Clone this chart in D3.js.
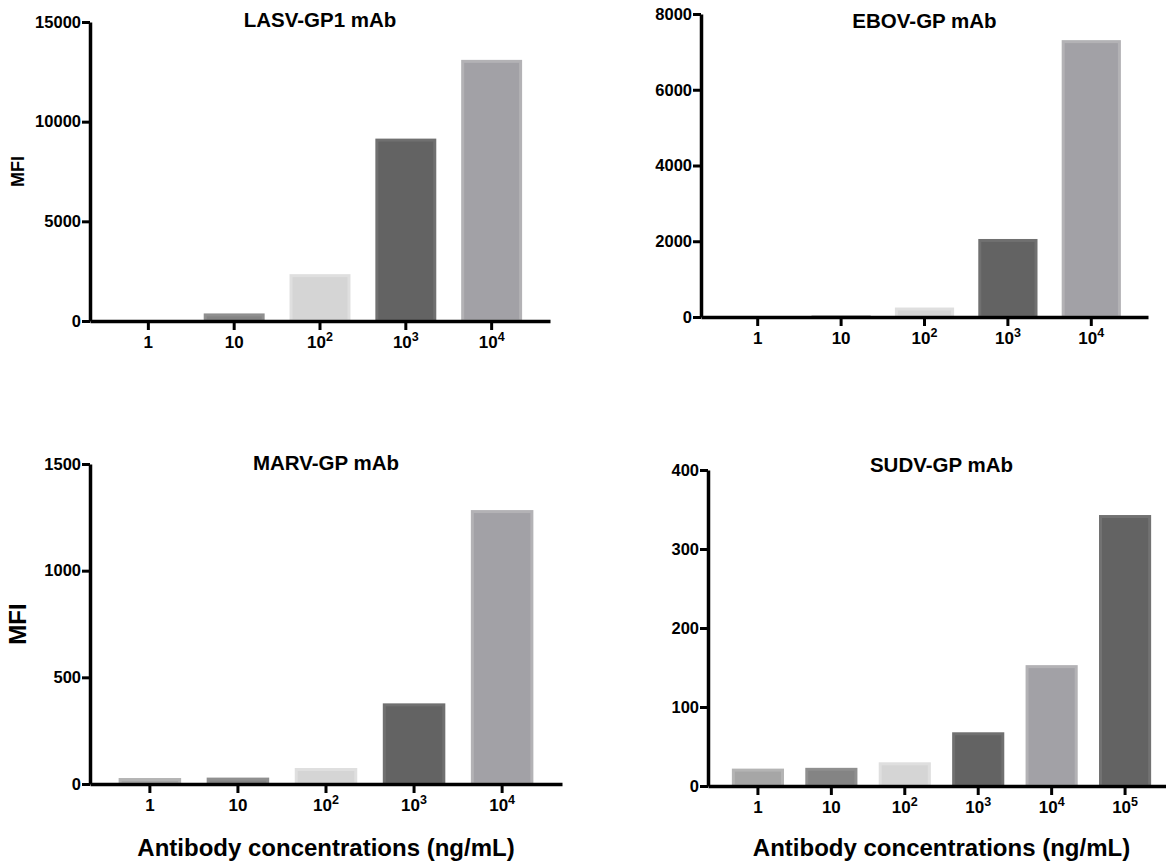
<!DOCTYPE html>
<html>
<head>
<meta charset="utf-8">
<script src="https://cdn.jsdelivr.net/npm/d3@7"></script>
<style>
  body { margin: 0; background: #fff; }
  svg { display: block; font-family: "Liberation Sans", Arial, sans-serif; font-weight: bold; }
</style>
</head>
<body>
<svg id="chart" width="1166" height="865"></svg>
<script>
// ---- data ----
let concLabels5 = ['1', '10', '10^2', '10^3', '10^4'];
let concLabels6 = ['1', '10', '10^2', '10^3', '10^4', '10^5'];

let lasvValues = [50, 380, 2350, 9150, 13100];
let ebovValues = [20, 40, 250, 2060, 7310];
let marvValues = [28, 30, 75, 378, 1284];
let sudvValues = [22, 23, 30, 68, 153, 343];

let lasvTicks = [0, 5000, 10000, 15000];
let ebovTicks = [0, 2000, 4000, 6000, 8000];
let marvTicks = [0, 500, 1000, 1500];
let sudvTicks = [0, 100, 200, 300, 400];

// bar fill / edge colour by concentration
let barFills = ['#a6a6a6', '#848484', '#d5d5d5', '#636363', '#a2a1a6', '#636363'];
let barEdges = ['#b4b4b4', '#8f8f8f', '#dfdfdf', '#707070', '#b3b2b5', '#727272'];

let svg = d3.select('#chart');

//--------------------------------------
function drawPanel(opt) {
  let g = svg.append('g');

  let x = d3.scaleBand()
      .domain(opt.labels)
      .range([opt.x0, opt.x1])
      .paddingInner(0.29)
      .paddingOuter(0.325);

  let y = d3.scaleLinear()
      .domain([0, d3.max(opt.ticks)])
      .range([opt.y0, opt.yTop]);

  // bars
  g.selectAll('rect.bar')
    .data(opt.values)
    .enter().append('rect')
      .attr('class', 'bar')
      .attr('x', function(d, i) { return x(opt.labels[i]) + 1.5; })
      .attr('y', function(d) { return y(d) + 1.5; })
      .attr('width', x.bandwidth() - 3)
      .attr('height', function(d) { return Math.max(0, opt.y0 - y(d) - 1.5); })
      .attr('fill', function(d, i) { return barFills[i]; })
      .attr('stroke', function(d, i) { return barEdges[i]; })
      .attr('stroke-width', 3);

  // y axis
  let yAxis = g.append('g')
      .attr('transform', 'translate(' + opt.x0 + ',0)')
      .call(d3.axisLeft(y).tickValues(opt.ticks).tickSize(8).tickPadding(1).tickSizeOuter(0).tickFormat(d3.format('d')));
  yAxis.select('.domain').attr('stroke', '#000').attr('stroke-width', 3.5);
  yAxis.selectAll('.tick line').attr('stroke', '#000').attr('stroke-width', 3);
  yAxis.selectAll('.tick text')
      .attr('fill', '#000')
      .style('font-size', '16.5px')
      .style('font-family', '"Liberation Sans", Arial, sans-serif')
      .style('font-weight', 'bold');

  // x axis
  let xAxis = g.append('g')
      .attr('transform', 'translate(0,' + opt.y0 + ')')
      .call(d3.axisBottom(x).tickSize(9).tickSizeOuter(0).tickFormat(''));
  xAxis.select('.domain').attr('stroke', '#000').attr('stroke-width', 3.5);
  xAxis.selectAll('.tick line').attr('stroke', '#000').attr('stroke-width', 3);

  // tick labels like 10^2 with superscript
  let lab = g.selectAll('text.xlab')
    .data(opt.labels)
    .enter().append('text')
      .attr('class', 'xlab')
      .attr('x', function(d) { return x(d) + x.bandwidth() / 2; })
      .attr('y', opt.y0 + 27)
      .attr('text-anchor', 'middle')
      .style('font-size', '17px');
  lab.each(function(d) {
    let parts = d.split('^');
    let t = d3.select(this);
    t.append('tspan').text(parts[0]);
    if (parts.length > 1) {
      t.append('tspan').attr('dy', -7).style('font-size', '12.5px').text(parts[1]);
    }
  });

  // title
  g.append('text')
      .attr('x', (opt.x0 + opt.x1) / 2)
      .attr('y', opt.titleY)
      .attr('text-anchor', 'middle')
      .style('font-size', '20.5px')
      .text(opt.title);

  if (opt.yLabel) {
    g.append('text')
        .attr('transform', 'translate(' + opt.yLabelX + ',' + ((opt.y0 + opt.yTop) / 2) + ') rotate(-90)')
        .attr('text-anchor', 'middle')
        .style('font-size', opt.yLabelSize + 'px')
        .text(opt.yLabel);
  }
  if (opt.xLabel) {
    g.append('text')
        .attr('x', (opt.x0 + opt.x1) / 2)
        .attr('y', 856)
        .attr('text-anchor', 'middle')
        .style('font-size', '24px')
        .text(opt.xLabel);
  }
}

drawPanel({ title: 'LASV-GP1 mAb', labels: concLabels5, values: lasvValues, ticks: lasvTicks,
  x0: 90, x1: 550, y0: 321, yTop: 22, titleY: 27, yLabel: 'MFI', yLabelX: 24, yLabelSize: 18 });
drawPanel({ title: 'EBOV-GP mAb', labels: concLabels5, values: ebovValues, ticks: ebovTicks,
  x0: 701, x1: 1148, y0: 317, yTop: 14, titleY: 28 });
drawPanel({ title: 'MARV-GP mAb', labels: concLabels5, values: marvValues, ticks: marvTicks,
  x0: 90, x1: 562, y0: 784, yTop: 464, titleY: 470, yLabel: 'MFI', yLabelX: 26, yLabelSize: 24,
  xLabel: 'Antibody concentrations (ng/mL)' });
drawPanel({ title: 'SUDV-GP mAb', labels: concLabels6, values: sudvValues, ticks: sudvTicks,
  x0: 708, x1: 1175, y0: 786, yTop: 470, titleY: 472,
  xLabel: 'Antibody concentrations (ng/mL)' });
</script>
</body>
</html>
